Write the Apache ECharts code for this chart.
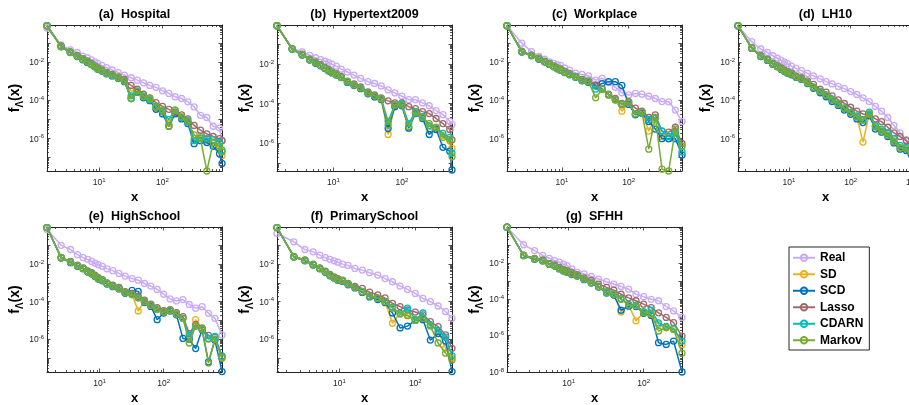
<!DOCTYPE html>
<html><head><meta charset="utf-8">
<script src="https://cdn.jsdelivr.net/npm/echarts@6/dist/echarts.min.js"></script>
<style>html,body{margin:0;padding:0;background:#fff}#c{width:909px;height:405px}</style>
</head><body><div id="c"></div>
<script>
const FONT = 'Liberation Sans, Arial, Helvetica, sans-serif';
const seriesNames = ['Real','SD','SCD','Lasso','CDARN','Markov'];
const seriesColors = ['#C8AAF5','#EDB120','#0072BD','#A0696B','#00BEBE','#77AC30'];
const panelTitles = ['(a)  Hospital','(b)  Hypertext2009','(c)  Workplace','(d)  LH10','(e)  HighSchool','(f)  PrimarySchool','(g)  SFHH'];

// (a) Hospital
const xA = [1.5,2.5,3.5,4.5,5.5,6.5,7.5,8.5,9.5,11,13,16,20,25,32,40,50,63,79,100,126,158,200,251,316,398,501,631,794,870];
const realA = [0.66,0.085,0.047,0.034,0.022,0.018,0.014,0.011,9.1e-3,7.2e-3,5.5e-3,4.1e-3,3.0e-3,2.2e-3,1.6e-3,1.2e-3,8.7e-4,6.3e-4,5.0e-4,3.3e-4,2.4e-4,1.6e-4,1.3e-4,8.7e-5,4.7e-5,1.7e-5,1.3e-5,4.5e-6,3.6e-6,8.1e-7];
const sdA = [0.87,0.071,0.035,0.022,0.015,0.011,8.3e-3,6.3e-3,4.8e-3,3.8e-3,2.8e-3,2.2e-3,1.6e-3,1.1e-3,3.2e-4,3.2e-4,1.6e-4,1.1e-4,4e-5,2.5e-5,6.3e-6,2.5e-5,1.3e-5,7.9e-6,1e-6,1.3e-6,7.9e-7,6.3e-7,3.2e-7,1.3e-7];
const scdA = [0.87,0.068,0.034,0.021,0.014,0.010,7.9e-3,6.0e-3,4.5e-3,3.6e-3,2.6e-3,2.0e-3,1.5e-3,1.0e-3,1.3e-4,2.8e-4,1.4e-4,1e-4,3.5e-5,2e-5,4.5e-6,2e-5,1.1e-5,6.3e-6,5.5e-7,7.9e-7,6.3e-7,4e-7,1.6e-7,5e-8];
const lassoA = [0.87,0.075,0.037,0.024,0.016,0.012,9e-3,6.8e-3,5.2e-3,4.1e-3,3.1e-3,2.4e-3,1.8e-3,1.3e-3,6.3e-4,4e-4,2.2e-4,1.4e-4,7.9e-5,5e-5,3.5e-5,2.5e-5,1.8e-5,1.1e-5,5e-6,2.8e-6,1.8e-6,1.3e-6,1e-6,7.9e-7];
const cdarnA = [0.87,0.071,0.035,0.022,0.015,0.011,8.3e-3,6.3e-3,4.8e-3,3.8e-3,2.8e-3,2.1e-3,1.6e-3,1.1e-3,1.8e-4,3.2e-4,1.8e-4,1.1e-4,5e-5,2.8e-5,1e-5,3.2e-5,1.3e-5,8.9e-6,7.9e-7,1.1e-6,1e-6,8.9e-7,6.3e-7,2.5e-7];
const markovA = [0.87,0.071,0.035,0.022,0.015,0.011,8.3e-3,6.3e-3,4.8e-3,3.8e-3,2.8e-3,2.2e-3,1.6e-3,1.1e-3,1.3e-4,3.2e-4,1.6e-4,1.3e-4,4.5e-5,3.2e-5,4.5e-6,3.2e-5,1.4e-5,7.9e-6,1.6e-6,1e-6,2e-8,6.3e-7,4e-7,2e-7];

// (b) Hypertext2009
const xB = [1.5,2.5,3.5,4.5,5.5,6.5,7.5,8.5,9.5,11,13,16,20,25,32,40,50,63,79,100,126,158,200,251,316,398,501,540];
const realB = [0.89,0.063,0.042,0.028,0.021,0.017,0.014,0.012,0.01,7.9e-3,5.6e-3,4e-3,2.8e-3,1.9e-3,1.3e-3,1.05e-3,7.9e-4,5e-4,3.5e-4,2.4e-4,1.6e-4,1.6e-4,1.1e-4,7.9e-5,4.5e-5,2.8e-5,1.3e-5,8.9e-6];
const sdB = [0.87,0.058,0.030,0.017,0.012,8.7e-3,6.3e-3,4.8e-3,3.8e-3,3.0e-3,2.2e-3,1.3e-3,8.9e-4,6.3e-4,3.5e-4,2.5e-4,1.8e-4,2.8e-6,7.9e-5,8.9e-5,6.3e-6,3.5e-5,2e-5,5e-6,5.6e-6,2.5e-6,1.3e-6,5.6e-7];
const scdB = [0.87,0.056,0.029,0.016,0.011,8.3e-3,6.0e-3,4.5e-3,3.6e-3,2.8e-3,2.1e-3,1.2e-3,8.3e-4,5.8e-4,3.2e-4,2.2e-4,1.6e-4,5.6e-6,7.1e-5,7.9e-5,5.8e-6,3.2e-5,1.8e-5,2.8e-6,5e-6,6.3e-7,4e-7,4.5e-8];
const lassoB = [0.87,0.060,0.032,0.018,0.013,9.3e-3,6.8e-3,5.2e-3,4.1e-3,3.3e-3,2.4e-3,1.4e-3,1.0e-3,7.1e-4,4.0e-4,2.8e-4,2.0e-4,1.4e-4,1.1e-4,1.1e-4,7.1e-5,5.6e-5,4e-5,3.2e-5,1.8e-5,1e-5,5e-6,1.5e-6];
const cdarnB = [0.87,0.058,0.030,0.017,0.012,8.7e-3,6.3e-3,4.8e-3,3.8e-3,3.0e-3,2.2e-3,1.3e-3,8.9e-4,6.3e-4,3.5e-4,2.5e-4,1.8e-4,1.3e-5,8.9e-5,1e-4,1e-5,4e-5,2.2e-5,7.9e-6,6.3e-6,3.2e-6,2e-6,3.2e-7];
const markovB = [0.87,0.058,0.030,0.017,0.012,8.7e-3,6.3e-3,4.8e-3,3.8e-3,3.0e-3,2.2e-3,1.3e-3,8.9e-4,6.3e-4,3.5e-4,2.5e-4,1.8e-4,8.5e-6,8.9e-5,8.9e-5,7.1e-6,3.5e-5,2e-5,1e-5,6.3e-6,2e-6,1.6e-6,2.1e-7];

// (c) Workplace
const xC = [1.5,2.5,3.5,4.5,5.5,6.5,7.5,8.5,9.5,11,13,16,20,25,32,40,50,63,79,100,126,158,200,251,316,398,501,630];
const realC = [0.89,0.105,0.038,0.021,0.015,0.011,9.1e-3,7.9e-3,7.1e-3,5.2e-3,4e-3,2.8e-3,2.4e-3,2e-3,1.2e-3,1.5e-3,9e-4,5e-4,2.6e-4,2e-4,2.4e-4,2.2e-4,1.7e-4,1.3e-4,8.9e-5,8.7e-5,3.2e-5,7.9e-6];
const sdC = [0.87,0.038,0.024,0.016,0.011,8.5e-3,6.3e-3,5e-3,4.2e-3,3.2e-3,2.4e-3,1.8e-3,1.2e-3,1e-3,6.3e-4,4e-4,2e-4,1.1e-4,2.8e-5,7.9e-5,2e-5,2.5e-5,2.5e-6,1.3e-5,1.3e-6,1e-6,2.5e-6,4e-7];
const scdC = [0.87,0.036,0.023,0.015,0.011,8e-3,6e-3,4.7e-3,4e-3,3e-3,2.3e-3,1.7e-3,1.1e-3,9e-4,6e-4,7.9e-4,1e-3,1e-3,6.3e-4,6.3e-5,1.8e-5,2.2e-5,8e-6,3.2e-6,1e-6,1e-6,1e-6,1.4e-7];
const lassoC = [0.87,0.040,0.025,0.017,0.012,9e-3,6.8e-3,5.3e-3,4.5e-3,3.4e-3,2.6e-3,1.9e-3,1.3e-3,1.1e-3,6.8e-4,4.3e-4,2.2e-4,1.3e-4,7.1e-5,8.9e-5,4e-5,2.8e-5,1.3e-5,1.8e-5,2.5e-6,2.2e-6,4e-6,5.6e-7];
const cdarnC = [0.87,0.038,0.024,0.016,0.011,8.5e-3,6.3e-3,5e-3,4.2e-3,3.2e-3,2.4e-3,1.8e-3,1.2e-3,1e-3,4e-4,4e-4,2e-4,1.1e-4,6.3e-5,7.9e-5,2e-5,2.5e-5,1e-5,1.3e-5,2.5e-6,1.3e-6,2e-6,2e-7];
const markovC = [0.87,0.038,0.024,0.016,0.011,8.5e-3,6.3e-3,5e-3,4.2e-3,3.2e-3,2.4e-3,1.8e-3,1.2e-3,1e-3,1.4e-4,4e-4,2e-4,1.1e-4,6.3e-5,7.9e-5,2e-5,2.5e-5,2.8e-7,1.3e-5,2.5e-8,2e-8,3.2e-6,4e-7];

// (d) LH10
const xD = [1.5,2.5,3.5,4.5,5.5,6.5,7.5,8.5,9.5,11,13,16,20,25,32,40,50,63,79,100,126,158,200,251,316,398,501,631,794,1020];
const realD = [0.83,0.126,0.052,0.034,0.023,0.017,0.013,0.0105,8.9e-3,6.6e-3,5e-3,3.8e-3,2.7e-3,2e-3,1.4e-3,1e-3,7.6e-4,5.6e-4,4.3e-4,3e-4,2.1e-4,1.4e-4,8.9e-5,5e-5,2.8e-5,1.3e-5,5e-6,2e-6,8.9e-7,2.5e-7];
const sdD = [0.87,0.058,0.022,0.014,8.5e-3,6.3e-3,4.7e-3,3.6e-3,3e-3,2.5e-3,1.8e-3,1.4e-3,8.7e-4,5e-4,3e-4,1.9e-4,1.1e-4,6.5e-5,3.9e-5,2.3e-5,1.4e-5,6.6e-7,2e-5,4.2e-6,2.8e-6,1.8e-6,7.9e-7,3.6e-7,3e-7,8e-8];
const scdD = [0.87,0.056,0.021,0.013,8e-3,6e-3,4.4e-3,3.4e-3,2.8e-3,2.3e-3,1.7e-3,1.3e-3,7.9e-4,4.5e-4,2.6e-4,1.6e-4,9e-5,5.6e-5,3.2e-5,1.9e-5,1.1e-5,7e-6,1.6e-5,3.2e-6,2.2e-6,1.3e-6,6e-7,2.8e-7,2.4e-7,4e-8];
const lassoD = [0.87,0.062,0.024,0.015,9.3e-3,6.9e-3,5.2e-3,4e-3,3.3e-3,2.8e-3,2e-3,1.6e-3,1.1e-3,7.1e-4,4e-4,2.8e-4,1.8e-4,1.1e-4,7.1e-5,4.5e-5,2.8e-5,2e-5,1.8e-5,1.1e-5,7.9e-6,4e-6,2e-6,1.3e-6,7.9e-7,3.5e-7];
const cdarnD = [0.87,0.058,0.022,0.014,8.5e-3,6.3e-3,4.7e-3,3.6e-3,3e-3,2.5e-3,1.8e-3,1.4e-3,9e-4,5.2e-4,3.2e-4,2e-4,1.2e-4,7e-5,4.2e-5,2.5e-5,1.6e-5,1e-5,2.5e-5,5e-6,3.2e-6,2e-6,1e-6,4.5e-7,3.5e-7,1.2e-7];
const markovD = [0.87,0.058,0.022,0.014,8.5e-3,6.3e-3,4.7e-3,3.6e-3,3e-3,2.5e-3,1.8e-3,1.4e-3,8.7e-4,5e-4,3e-4,1.9e-4,1.1e-4,6.5e-5,3.9e-5,2.3e-5,1.4e-5,9.3e-6,2e-5,4.2e-6,2.5e-6,1.5e-6,7e-7,3.2e-7,3e-7,5e-8];

// (e) HighSchool
const xE = [1.5,2.5,3.5,4.5,5.5,6.5,7.5,8.5,9.5,11,13,16,20,25,32,40,50,63,79,100,126,158,200,251,316,398,501,631,815];
const realE = [0.69,0.1,0.06,0.032,0.022,0.018,0.014,0.011,9.3e-3,7.6e-3,5.6e-3,4.5e-3,3.2e-3,2.3e-3,1.7e-3,1.4e-3,9.3e-4,6.8e-4,4.5e-4,2.5e-4,1.4e-4,1.1e-4,1.3e-4,7.1e-5,4.5e-5,5.4e-5,2.4e-5,1.3e-5,1.7e-6];
const sdE = [0.89,0.022,0.013,8.1e-3,5.9e-3,4e-3,3.2e-3,2.3e-3,1.7e-3,1.4e-3,9.3e-4,6.8e-4,5.1e-4,3e-4,2.4e-4,3.2e-5,1e-4,6.3e-5,4e-5,2.8e-5,3.5e-5,2.2e-5,1.3e-5,1.4e-6,1.1e-5,3.5e-6,1e-6,1e-6,1e-7];
const scdE = [0.89,0.021,0.012,7.6e-3,5.6e-3,3.8e-3,3e-3,2.2e-3,1.6e-3,1.3e-3,8.7e-4,6.3e-4,4.8e-4,2.8e-4,4e-4,3.5e-4,9e-5,5.6e-5,1.1e-5,2.5e-5,3.2e-5,2e-5,1.1e-6,1e-6,3.2e-7,3.2e-6,6.3e-8,8.9e-7,1.9e-8];
const lassoE = [0.89,0.023,0.014,8.7e-3,6.3e-3,4.3e-3,3.5e-3,2.5e-3,1.9e-3,1.5e-3,1e-3,7.6e-4,5.8e-4,3.4e-4,2.8e-4,1.9e-4,1.2e-4,7.4e-5,4.8e-5,3.3e-5,3.8e-5,2.6e-5,1.6e-5,2e-6,6e-6,4e-6,1.6e-6,1.3e-6,1.3e-7];
const cdarnE = [0.89,0.022,0.013,8.1e-3,5.9e-3,4e-3,3.2e-3,2.3e-3,1.7e-3,1.4e-3,9.3e-4,6.8e-4,5.1e-4,3e-4,2.4e-4,1.6e-4,1e-4,6.3e-5,4e-5,2.8e-5,3.5e-5,2.2e-5,1.3e-5,1.6e-6,5e-6,3.5e-6,1.1e-6,1.4e-6,1.2e-7];
const markovE = [0.89,0.022,0.013,8.1e-3,5.9e-3,4e-3,3.2e-3,2.3e-3,1.7e-3,1.4e-3,9.3e-4,6.8e-4,5.1e-4,3e-4,2.4e-4,1.6e-4,1e-4,6.3e-5,4e-5,2.8e-5,3.5e-5,2.2e-5,1.3e-5,6.3e-7,5e-6,3.5e-6,5.4e-8,1e-6,1e-7];

// (f) PrimarySchool
const xF = [1.5,2.5,3.5,4.5,5.5,6.5,7.5,8.5,9.5,11,13,16,20,25,32,40,50,63,79,100,126,158,200,251,305];
const realF = [0.43,0.155,0.06,0.045,0.03,0.022,0.018,0.015,0.0126,0.01,8.5e-3,5.9e-3,4.8e-3,3.5e-3,2.6e-3,1.7e-3,1.15e-3,6.8e-4,4.5e-4,2.75e-4,1.5e-4,1e-4,5.9e-5,3e-5,1.3e-5];
const sdF = [0.89,0.025,0.016,9.5e-3,5.9e-3,3.9e-3,2.6e-3,1.9e-3,1.5e-3,1.3e-3,8.7e-4,5.8e-4,3.4e-4,2e-4,1.5e-4,1e-4,7.1e-6,2.4e-5,2e-5,1.1e-5,1.3e-5,5.8e-6,2.5e-6,3.3e-7,1e-7];
const scdF = [0.89,0.024,0.015,9e-3,5.6e-3,3.7e-3,2.4e-3,1.8e-3,1.4e-3,1.2e-3,8e-4,5.4e-4,3.1e-4,1.8e-4,1.3e-4,8.9e-5,2.5e-5,4e-6,5e-6,1e-5,1.1e-5,9e-7,2e-6,8e-7,1.9e-8];
const lassoF = [0.89,0.026,0.017,1e-2,6.3e-3,4.2e-3,2.8e-3,2.1e-3,1.7e-3,1.4e-3,9.5e-4,6.5e-4,5.1e-4,3.2e-4,2.3e-4,1.6e-4,8.1e-5,5.5e-5,3.6e-5,2.8e-5,2e-5,8.7e-6,4.7e-6,1.7e-6,3.3e-7];
const cdarnF = [0.89,0.025,0.016,9.5e-3,5.9e-3,3.9e-3,2.6e-3,1.9e-3,1.5e-3,1.3e-3,8.7e-4,5.8e-4,3.4e-4,2e-4,1.5e-4,1e-4,5e-5,2.4e-5,4.5e-5,1.1e-5,2.5e-5,5.8e-6,3e-6,1.3e-6,1.3e-7];
const markovF = [0.89,0.025,0.016,9.5e-3,5.9e-3,3.9e-3,2.6e-3,1.9e-3,1.5e-3,1.3e-3,8.7e-4,5.8e-4,3.4e-4,2e-4,1.5e-4,1e-4,4.5e-5,2.2e-5,1.8e-5,1e-5,1.3e-5,5e-6,6.3e-7,1.8e-7,7.9e-8];

// (g) SFHH
const xG = [1.5,2.5,3.5,4.5,5.5,6.5,7.5,8.5,9.5,11,13,16,20,25,32,40,50,63,79,100,126,158,200,251,325];
const realG = [0.89,0.1,0.048,0.026,0.018,0.0135,0.011,8.5e-3,7.1e-3,4.7e-3,3e-3,2.5e-3,1.8e-3,1.3e-3,9.3e-4,6.9e-4,5.1e-4,3.6e-4,1.9e-4,1.4e-4,1e-4,8.3e-5,4e-5,2.3e-5,1e-5];
const sdG = [0.93,0.026,0.017,0.0135,8.7e-3,7.1e-3,5e-3,3.8e-3,3.3e-3,2.5e-3,2e-3,1.3e-3,8.5e-4,5.1e-4,2.4e-4,1.9e-4,2e-5,4.8e-5,6.5e-6,1.9e-5,1.5e-5,4.2e-6,2.8e-6,2.2e-6,3.2e-7];
const scdG = [0.93,0.025,0.016,0.013,8.3e-3,6.7e-3,4.7e-3,3.6e-3,3.1e-3,2.3e-3,1.9e-3,1.2e-3,7.9e-4,4.7e-4,2.2e-4,1.7e-4,2.5e-5,4.2e-5,4e-5,1.7e-5,1.3e-5,4.1e-7,3.3e-7,5e-7,1e-8];
const lassoG = [0.93,0.027,0.018,0.0145,9.3e-3,7.8e-3,5.6e-3,4.3e-3,3.8e-3,2.9e-3,2.3e-3,1.5e-3,1.1e-3,6.9e-4,4.5e-4,3.2e-4,1.9e-4,1.2e-4,8.3e-5,5.4e-5,3.5e-5,1.8e-5,1e-5,5.2e-6,9.5e-7];
const cdarnG = [0.93,0.026,0.017,0.0135,8.7e-3,7.1e-3,5e-3,3.8e-3,3.3e-3,2.5e-3,2e-3,1.3e-3,8.5e-4,5.1e-4,2.6e-4,2e-4,1.1e-4,5.2e-5,4.8e-5,2.1e-5,2.5e-5,5e-6,3.2e-6,2.5e-6,5e-7];
const markovG = [0.93,0.026,0.017,0.0135,8.7e-3,7.1e-3,5e-3,3.8e-3,3.3e-3,2.5e-3,2e-3,1.3e-3,8.5e-4,5.1e-4,2.4e-4,1.9e-4,1e-4,4.8e-5,4.4e-5,1.9e-5,1.5e-5,1.8e-6,2.8e-6,2.2e-6,1.1e-7];

const panelX = [xA, xB, xC, xD, xE, xF, xG];
const panelY = [
  [realA, sdA, scdA, lassoA, cdarnA, markovA],
  [realB, sdB, scdB, lassoB, cdarnB, markovB],
  [realC, sdC, scdC, lassoC, cdarnC, markovC],
  [realD, sdD, scdD, lassoD, cdarnD, markovD],
  [realE, sdE, scdE, lassoE, cdarnE, markovE],
  [realF, sdF, scdF, lassoF, cdarnF, markovF],
  [realG, sdG, scdG, lassoG, cdarnG, markovG]
];
const xMin = 1.5;
const xMaxes = [870, 540, 630, 1020, 815, 305, 325];
const yMins = [2e-8, 4e-8, 2e-8, 2e-8, 1.8e-8, 1.8e-8, 1e-8];
const yMax = 0.95;

// layout (pixels)
const gridLeft = [47, 277, 507, 738, 47, 277, 507];
const gridTop = [25, 25, 25, 25, 227, 227, 227];
const gridH = [146, 146, 146, 146, 145, 145, 145];
const gridW = 175;

const AX = '#262626';
function pow10(v) { const e = Math.log10(v); const r = Math.round(e); return Math.abs(e - r) < 1e-6 ? r : null; }
const tickRich = {
  b: { fontSize: 8.5, color: AX, fontFamily: FONT, verticalAlign: 'bottom' },
  s: { fontSize: 6, color: AX, fontFamily: FONT, verticalAlign: 'top', padding: [0, 0, 4, 0] }
};
function xLab(v) { const r = pow10(v); return r === null ? '' : '{b|10}{s|' + r + '}'; }
function yLab(v) { const r = pow10(v); return (r === null || r % 2 !== 0) ? '' : '{b|10}{s|' + r + '}'; }

const grids = [], xAxes = [], yAxes = [], series = [], titles = [];
for (let i = 0; i < 7; i++) {
  grids.push({ left: gridLeft[i], top: gridTop[i], width: gridW, height: gridH[i],
    containLabel: false, outerBoundsMode: 'none' });
  titles.push({ text: panelTitles[i], left: gridLeft[i] + gridW / 2, top: gridTop[i] - 16.5, textAlign: 'center', padding: 0,
    textStyle: { fontSize: 12.5, fontWeight: 'bold', color: '#000', fontFamily: FONT } });
  const common = {
    type: 'log', logBase: 10, gridIndex: i,
    axisLine: { show: true, onZero: false, lineStyle: { color: AX, width: 1 } },
    axisTick: { show: true, inside: true, length: 3.5, lineStyle: { color: AX, width: 0.8 } },
    minorTick: { show: true, splitNumber: 9, length: 2, lineStyle: { color: AX, width: 0.8 } },
    splitLine: { show: false }, minorSplitLine: { show: false }
  };
  xAxes.push(Object.assign({}, common, {
    position: 'bottom', min: xMin, max: xMaxes[i],
    axisLabel: { show: true, margin: 6, formatter: xLab, rich: tickRich },
    name: 'x', nameLocation: 'middle', nameGap: 19.5,
    nameTextStyle: { fontSize: 13, fontWeight: 'bold', color: '#000', fontFamily: FONT }
  }));
  xAxes.push(Object.assign({}, common, {
    position: 'top', min: xMin, max: xMaxes[i], axisLabel: { show: false }
  }));
  yAxes.push(Object.assign({}, common, {
    position: 'left', min: yMins[i], max: yMax,
    axisLabel: { show: true, margin: 3, formatter: yLab, rich: tickRich },
    name: '{m|f}{sub|Λ}{m|(x)}', nameLocation: 'middle', nameGap: 22, nameRotate: 90,
    nameTextStyle: { rich: {
      m: { fontSize: 14, fontWeight: 'bold', color: '#000', fontFamily: FONT, verticalAlign: 'top' },
      sub: { fontSize: 10, fontWeight: 'bold', color: '#000', fontFamily: FONT, verticalAlign: 'bottom', padding: [7, 0, 0, 0] }
    } }
  }));
  yAxes.push(Object.assign({}, common, {
    position: 'right', min: yMins[i], max: yMax, axisLabel: { show: false }
  }));
  const xs = panelX[i];
  panelY[i].forEach((ys, j) => {
    series.push({
      type: 'line', name: seriesNames[j], xAxisIndex: 2 * i, yAxisIndex: 2 * i,
      data: xs.map((x, k) => [x, ys[k]]),
      symbol: 'circle', symbolSize: 6, showSymbol: true, showAllSymbol: true,
      itemStyle: { color: 'rgba(255,255,255,0)', borderColor: seriesColors[j], borderWidth: 1.3 },
      lineStyle: { color: seriesColors[j], width: 1.5 },
      emphasis: { disabled: true }, silent: true, animation: false, z: 2 + j
    });
  });
}

const chart = echarts.init(document.getElementById('c'), null, { renderer: 'canvas' });
chart.setOption({
  backgroundColor: '#fff',
  animation: false,
  title: titles,
  grid: grids, xAxis: xAxes, yAxis: yAxes, series: series,
  legend: {
    orient: 'vertical', left: 789, top: 247, selectedMode: false,
    data: seriesNames, itemWidth: 22, itemHeight: 8, itemGap: 3,
    padding: [4, 6, 3, 3], borderColor: AX, borderWidth: 1, backgroundColor: '#fff',
    textStyle: { fontSize: 12, fontWeight: 'bold', color: '#000', fontFamily: FONT, lineHeight: 13.5 }
  }
});
</script>
</body></html>
